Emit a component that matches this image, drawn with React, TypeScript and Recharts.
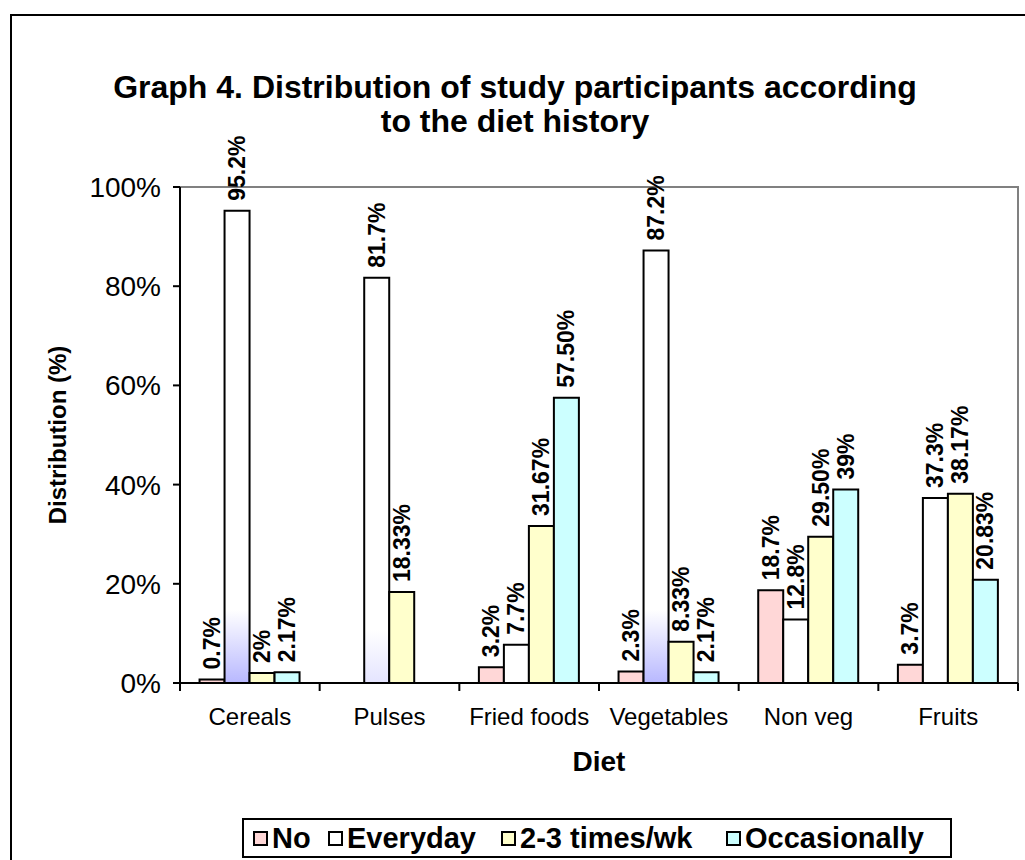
import React from 'react';
import { BarChart, Bar, XAxis, YAxis, LabelList, Cell } from 'recharts';

const FONT = '"Liberation Sans", Arial, Helvetica, sans-serif';

const diets = ['Cereals', 'Pulses', 'Fried foods', 'Vegetables', 'Non veg', 'Fruits'];

// printed data labels; each bar height is parsed from its own label
const noLabels = ['0.7%', '0.0%', '3.2%', '2.3%', '18.7%', '3.7%'];
const everydayLabels = ['95.2%', '81.7%', '7.7%', '87.2%', '12.8%', '37.3%'];
const weeklyLabels = ['2%', '18.33%', '31.67%', '8.33%', '29.50%', '38.17%'];
const occasionalLabels = ['2.17%', '0%', '57.50%', '2.17%', '39%', '20.83%'];

const yTicks = [0, 20, 40, 60, 80, 100];

const series = [
  { key: 'no', name: 'No', labels: noLabels, color: '#FFD7D7' },
  { key: 'everyday', name: 'Everyday', labels: everydayLabels, color: '#FFFFFF' },
  { key: 'weekly', name: '2-3 times/wk', labels: weeklyLabels, color: '#FFFFCC' },
  { key: 'occasional', name: 'Occasionally', labels: occasionalLabels, color: '#CCFFFF' },
];

// left edge of each legend entry inside the legend box
const legendLeft = [9, 84, 257, 482];

// the white "Everyday" bars that carry a lavender wash near the base
const washedEveryday: Record<string, string> = {
  Cereals: 'url(#washStrong)',
  Pulses: 'url(#washFaint)',
  Vegetables: 'url(#washStrong)',
};

const data = diets.map((diet, i) => {
  const row: Record<string, any> = { diet };
  series.forEach((s) => {
    row[s.key] = parseFloat(s.labels[i]);
    row[s.key + 'Label'] = s.labels[i];
  });
  return row;
});

const BarLabel = (props: any) => {
  const { x, y, width, value } = props;
  const cx = Number(x) + Number(width) / 2;
  const top = Number(y) - 10;
  return (
    <text
      transform={`translate(${cx},${top}) rotate(-90)`}
      textAnchor="start"
      dominantBaseline="central"
      fontFamily={FONT}
      fontSize={23}
      fontWeight="bold"
      fill="#000"
    >
      {value}
    </text>
  );
};

const DietTick = (props: any) => {
  const { x, y, payload, index } = props;
  const half = payload && payload.offset ? payload.offset : 838 / 12;
  return (
    <g>
      <line x1={x - half} x2={x - half} y1={y} y2={y + 8} stroke="#000" strokeWidth={2} />
      {index === diets.length - 1 && (
        <line x1={x + half} x2={x + half} y1={y} y2={y + 8} stroke="#000" strokeWidth={2} />
      )}
      <text x={x} y={y + 42} textAnchor="middle" fontFamily={FONT} fontSize={24} fill="#000">
        {payload.value}
      </text>
    </g>
  );
};

const Legend = () => (
  <div
    style={{
      position: 'absolute',
      left: 242,
      top: 818,
      width: 710,
      height: 40,
      boxSizing: 'border-box',
      border: '2px solid #000',
      fontFamily: FONT,
      fontWeight: 'bold',
      fontSize: 29,
      background: '#fff',
    }}
  >
    {series.map((s, i) => (
      <div
        key={s.key}
        style={{
          position: 'absolute',
          left: legendLeft[i],
          top: 0,
          height: 36,
          display: 'flex',
          alignItems: 'center',
          whiteSpace: 'nowrap',
        }}
      >
        <span
          style={{
            display: 'inline-block',
            width: 15,
            height: 15,
            boxSizing: 'border-box',
            border: '2px solid #000',
            background: s.color,
            marginRight: 4,
          }}
        />
        <span>{s.name}</span>
      </div>
    ))}
  </div>
);

export default function App() {
  return (
    <div
      style={{
        position: 'absolute',
        left: 0,
        top: 0,
        width: 1025,
        height: 860,
        overflow: 'hidden',
        background: '#fff',
      }}
    >
      <div
        style={{
          position: 'absolute',
          left: 10,
          top: 14,
          width: 1100,
          height: 1000,
          border: '2px solid #000',
        }}
      />
      {/* grey frame on the top and right of the plot area */}
      <div
        style={{
          position: 'absolute',
          left: 180,
          top: 186,
          width: 839,
          height: 497,
          boxSizing: 'border-box',
          borderTop: '2px solid #808080',
          borderRight: '2px solid #808080',
        }}
      />
      <div
        style={{
          position: 'absolute',
          left: 0,
          top: 70,
          width: 1030,
          textAlign: 'center',
          fontFamily: FONT,
          fontWeight: 'bold',
          fontSize: 32,
          lineHeight: '34px',
        }}
      >
        Graph 4. Distribution of study participants according
        <br />
        to the diet history
      </div>
      <div style={{ position: 'absolute', left: 0, top: 0 }}>
        <BarChart
          width={1025}
          height={860}
          data={data}
          margin={{ top: 187, right: 7, bottom: 0, left: 10 }}
          barCategoryGap="14%"
          barGap={0}
        >
          <defs>
            <linearGradient id="washStrong" gradientUnits="userSpaceOnUse" x1="0" y1="610" x2="0" y2="683">
              <stop offset="0%" stopColor="#FFFFFF" />
              <stop offset="100%" stopColor="#B8B8FF" />
            </linearGradient>
            <linearGradient id="washFaint" gradientUnits="userSpaceOnUse" x1="0" y1="630" x2="0" y2="683">
              <stop offset="0%" stopColor="#FFFFFF" />
              <stop offset="100%" stopColor="#E4E4FF" />
            </linearGradient>
          </defs>
          <XAxis
            dataKey="diet"
            height={177}
            interval={0}
            axisLine={{ stroke: '#000', strokeWidth: 2 }}
            tickLine={false}
            tickSize={0}
            tickMargin={0}
            tick={<DietTick />}
            label={{
              value: 'Diet',
              position: 'insideTop',
              offset: 68,
              style: { fontFamily: FONT, fontWeight: 'bold', fontSize: 28, fill: '#000' },
            }}
          />
          <YAxis
            domain={[0, 100]}
            ticks={yTicks}
            width={170}
            tickFormatter={(v: number) => `${v}%`}
            axisLine={{ stroke: '#000', strokeWidth: 2 }}
            tickLine={{ stroke: '#000', strokeWidth: 2 }}
            tickSize={7}
            tickMargin={12}
            tick={{ fill: '#000', fontSize: 28, fontFamily: FONT }}
            label={{
              value: 'Distribution (%)',
              angle: -90,
              position: 'insideLeft',
              offset: 47,
              style: { textAnchor: 'middle', fontFamily: FONT, fontWeight: 'bold', fontSize: 24, fill: '#000' },
            }}
          />
          {series.map((s) => (
            <Bar
              key={s.key}
              dataKey={s.key}
              name={s.name}
              fill={s.color}
              stroke="#000"
              strokeWidth={2}
              isAnimationActive={false}
            >
              {s.key === 'everyday' &&
                data.map((row) => (
                  <Cell key={row.diet} fill={washedEveryday[row.diet] || s.color} />
                ))}
              <LabelList dataKey={s.key + 'Label'} content={<BarLabel />} />
            </Bar>
          ))}
        </BarChart>
      </div>
      <Legend />
    </div>
  );
}
